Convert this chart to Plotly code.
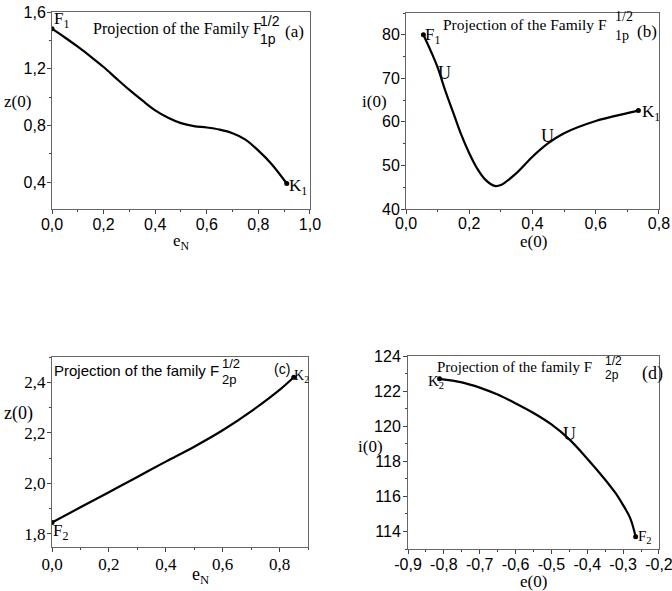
import plotly.graph_objects as go

W, H = 672, 591

# ---- data ----
a_x = [0, 0.05, 0.1, 0.15, 0.2, 0.25, 0.3, 0.35, 0.4, 0.45, 0.5, 0.55, 0.6, 0.65, 0.7, 0.75, 0.8, 0.85, 0.91]
a_y = [1.482, 1.42, 1.355, 1.285, 1.212, 1.13, 1.05, 0.976, 0.906, 0.854, 0.816, 0.795, 0.785, 0.77, 0.745, 0.70, 0.622, 0.53, 0.39]

b_x = [0.055, 0.08, 0.1, 0.125, 0.15, 0.175, 0.2, 0.225, 0.25, 0.28, 0.3, 0.35, 0.4, 0.45, 0.5, 0.6, 0.7, 0.735]
b_y = [80, 76, 72.5, 67, 62, 57, 52.8, 49.3, 46.8, 45.3, 45.5, 48.3, 52, 55.1, 57.4, 60.2, 62, 62.6]

c_x = [0, 0.1, 0.2, 0.3, 0.4, 0.5, 0.6, 0.7, 0.8, 0.85]
c_y = [1.845, 1.905, 1.965, 2.025, 2.086, 2.145, 2.21, 2.285, 2.37, 2.42]

d_x = [-0.812, -0.75, -0.7, -0.65, -0.6, -0.55, -0.5, -0.45, -0.4, -0.35, -0.32, -0.3, -0.28, -0.265]
d_y = [122.7, 122.5, 122.2, 121.8, 121.3, 120.75, 120.1, 119.25, 118.15, 116.95, 116.15, 115.5, 114.75, 113.7]

a_xticks = [0, 0.2, 0.4, 0.6, 0.8, 1.0]
a_xlabels = ["0,0", "0,2", "0,4", "0,6", "0,8", "1,0"]
a_yticks = [0.4, 0.8, 1.2, 1.6]
a_ylabels = ["0,4", "0,8", "1,2", "1,6"]

b_xticks = [0, 0.2, 0.4, 0.6, 0.8]
b_xlabels = ["0,0", "0,2", "0,4", "0,6", "0,8"]
b_yticks = [40, 50, 60, 70, 80]
b_ylabels = ["40", "50", "60", "70", "80"]

c_xticks = [0, 0.2, 0.4, 0.6, 0.8]
c_xlabels = ["0,0", "0,2", "0,4", "0,6", "0,8"]
c_yticks = [1.8, 2.0, 2.2, 2.4]
c_ylabels = ["1,8", "2,0", "2,2", "2,4"]

d_xticks = [-0.9, -0.8, -0.7, -0.6, -0.5, -0.4, -0.3, -0.2]
d_xlabels = ["-0,9", "-0,8", "-0,7", "-0,6", "-0,5", "-0,4", "-0,3", "-0,2"]
d_yticks = [114, 116, 118, 120, 122, 124]
d_ylabels = ["114", "116", "118", "120", "122", "124"]

SANS = "Liberation Sans, Arial, sans-serif"
SERIF = "Liberation Serif, Times New Roman, serif"

fig = go.Figure()

panels = [
    (a_x, a_y, "x", "y"),
    (b_x, b_y, "x2", "y2"),
    (c_x, c_y, "x3", "y3"),
    (d_x, d_y, "x4", "y4"),
]
for xs, ys, xa, ya in panels:
    fig.add_trace(go.Scatter(x=xs, y=ys, xaxis=xa, yaxis=ya, mode="lines",
                             line=dict(color="black", width=2.2, shape="spline", smoothing=1.0),
                             showlegend=False, hoverinfo="skip"))
    fig.add_trace(go.Scatter(x=[xs[0], xs[-1]], y=[ys[0], ys[-1]], xaxis=xa, yaxis=ya, mode="markers",
                             marker=dict(color="black", size=5), showlegend=False, hoverinfo="skip"))


def px(x):
    return x / W


def py(y):
    return 1 - y / H


def axis(domain, rng, tv, tt, minor_dtick, font_family, anchor, fsize=16, standoff=0):
    return dict(domain=domain, range=rng, tickvals=tv, ticktext=tt, ticks="outside", ticklen=4,
                tickcolor="#444", showline=True, linecolor="#666", linewidth=1, mirror=True,
                showgrid=False, zeroline=False, anchor=anchor, automargin=False,
                ticklabelstandoff=standoff, ticklabeloverflow="allow",
                tickfont=dict(family=font_family, size=fsize, color="black"),
                minor=dict(ticks="outside", ticklen=2, dtick=minor_dtick, tickcolor="#444", showgrid=False))


layout = dict(
    width=W, height=H, margin=dict(l=0, r=0, t=0, b=0, pad=0), autosize=False,
    paper_bgcolor="white", plot_bgcolor="white",
    xaxis=axis([px(52), px(310)], [0, 1.0001], a_xticks, a_xlabels, 0.1, SANS, "y", 16, -3),
    yaxis=axis([py(209), py(12)], [0.21, 1.6001], a_yticks, a_ylabels, 0.2, SANS, "x", 16, -2),
    xaxis2=axis([px(406), px(659)], [0, 0.8001], b_xticks, b_xlabels, 0.1, SANS, "y2", 16, -4),
    yaxis2=axis([py(209), py(13)], [40, 85], b_yticks, b_ylabels, 5, SANS, "x2", 16, -2),
    xaxis3=axis([px(52), px(308)], [0, 0.9], c_xticks, c_xlabels, 0.1, SERIF, "y3", 17, -2),
    yaxis3=axis([py(547), py(357)], [1.748, 2.5], c_yticks, c_ylabels, 0.1, SERIF, "x3", 17, -2),
    xaxis4=axis([px(408), px(659)], [-0.9001, -0.1999], d_xticks, d_xlabels, 0.05, SANS, "y4", 16, -3),
    yaxis4=axis([py(549), py(356)], [113, 124.001], d_yticks, d_ylabels, 1, SANS, "x4", 16, -1),
)
fig.update_layout(**layout)

anns = []


def ann(x, y, text, size=14, family=SERIF, xanchor="left", yanchor="middle"):
    anns.append(dict(x=px(x), y=py(y), xref="paper", yref="paper", text=text, showarrow=False,
                     xanchor=xanchor, yanchor=yanchor, borderpad=0,
                     font=dict(family=family, size=size, color="black")))


# panel (a)
ann(92, 29, "Projection of the Family F", 16)
ann(259, 21, "1/2", 14, SANS)
ann(259, 39, "1p", 14, SANS)
ann(284, 31, "(a)", 17)
ann(53, 20, "F<sub>1</sub>", 17)
ann(288, 187, "K<sub>1</sub>", 17)
ann(3, 101, "z(0)", 17)
ann(181, 242, "e<sub>N</sub>", 17, SERIF, "center")

# panel (b)
ann(442, 25, "Projection of the Family F", 15.5)
ann(614, 16, "1/2", 14)
ann(614, 36, "1p", 14)
ann(636, 32, "(b)", 17)
ann(424, 36, "F<sub>1</sub>", 17)
ann(437, 73, "U", 18)
ann(540, 136, "U", 18)
ann(641, 113, "K<sub>1</sub>", 17)
ann(361, 102, "i(0)", 17)
ann(533, 241, "e(0)", 17, SERIF, "center")

# panel (c)
ann(53, 370, "Projection of the family F", 15, SANS)
ann(221, 363, "1/2", 13, SANS)
ann(221, 379, "2p", 13, SANS)
ann(273, 369, "(c)", 14, SANS)
ann(293, 377, "K<sub>2</sub>", 14)
ann(52, 532, "F<sub>2</sub>", 17)
ann(3, 413, "z(0)", 18)
ann(200, 575, "e<sub>N</sub>", 18, SERIF, "center")

# panel (d)
ann(436, 367, "Projection of the family F", 15)
ann(604, 361, "1/2", 12, SANS)
ann(604, 375, "2p", 12, SANS)
ann(641, 373, "(d)", 18)
ann(427, 382, "K<sub>2</sub>", 15)
ann(562, 434, "U", 18)
ann(637, 537, "F<sub>2</sub>", 15)
ann(357, 446, "i(0)", 17)
ann(533, 581, "e(0)", 17, SERIF, "center")

fig.update_layout(annotations=anns)
fig.write_html("out.html", config={"displayModeBar": False},
               post_script="document.body.style.margin='0';document.body.style.overflow='hidden';")
